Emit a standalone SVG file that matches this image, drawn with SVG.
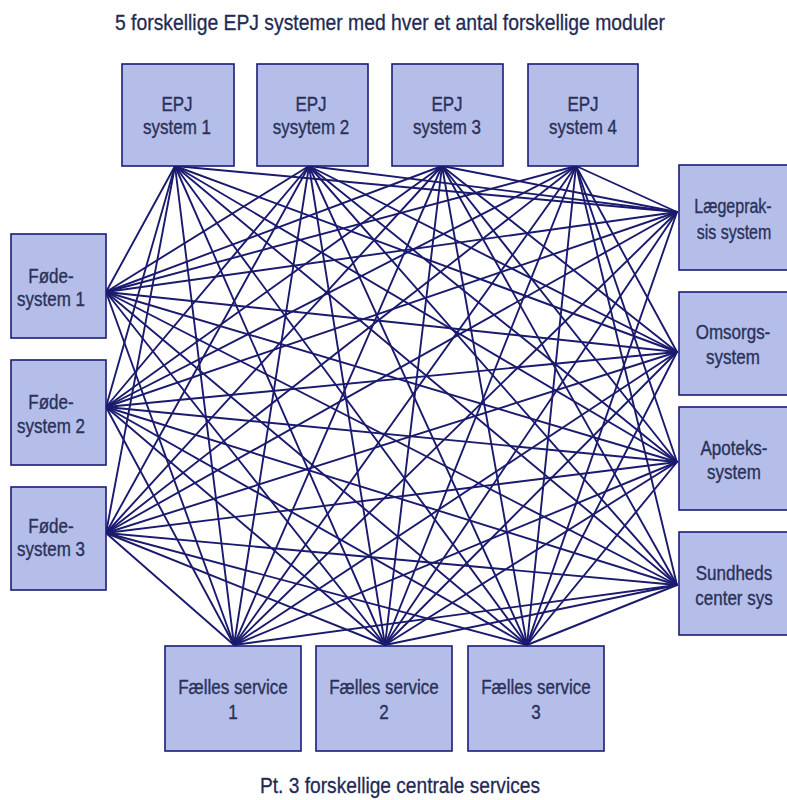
<svg xmlns="http://www.w3.org/2000/svg" width="787" height="800" viewBox="0 0 787 800">
<style>
.bg{fill:#ffffff}
.box{fill:#b5bee9;stroke:#1c1c78;stroke-width:1.6}
.lbl{font-family:"Liberation Sans",Arial,sans-serif;font-size:20px;fill:#2a3158;stroke:#2a3158;stroke-width:0.35;text-anchor:middle}
.cap{font-family:"Liberation Sans",Arial,sans-serif;font-size:22px;fill:#1f2a55;stroke:#1f2a55;stroke-width:0.3;text-anchor:middle}
#connectors line{stroke:#1a1a6e;stroke-width:1.9;stroke-linecap:round}
</style>
<rect class="bg" x="0" y="0" width="787" height="800"/>
<text class="cap" x="390" y="30" textLength="550" lengthAdjust="spacingAndGlyphs">5 forskellige EPJ systemer med hver et antal forskellige moduler</text>
<text class="cap" x="400" y="793" textLength="280" lengthAdjust="spacingAndGlyphs">Pt. 3 forskellige centrale services</text>
<g id="connectors">
<!-- EPJ1 -->
<line x1="175" y1="166" x2="106" y2="292"/><line x1="175" y1="166" x2="106" y2="407"/><line x1="175" y1="166" x2="106" y2="533"/>
<line x1="175" y1="166" x2="677" y2="212"/><line x1="175" y1="166" x2="677" y2="352"/><line x1="175" y1="166" x2="677" y2="462"/><line x1="175" y1="166" x2="677" y2="585"/>
<line x1="175" y1="166" x2="234" y2="645"/><line x1="175" y1="166" x2="385" y2="645"/><line x1="175" y1="166" x2="527" y2="645"/>
<!-- EPJ2 -->
<line x1="309" y1="166" x2="106" y2="292"/><line x1="309" y1="166" x2="106" y2="407"/><line x1="309" y1="166" x2="106" y2="533"/>
<line x1="309" y1="166" x2="677" y2="212"/><line x1="309" y1="166" x2="677" y2="352"/><line x1="309" y1="166" x2="677" y2="462"/><line x1="309" y1="166" x2="677" y2="585"/>
<line x1="309" y1="166" x2="234" y2="645"/><line x1="309" y1="166" x2="385" y2="645"/><line x1="309" y1="166" x2="527" y2="645"/>
<!-- EPJ3 -->
<line x1="442" y1="166" x2="106" y2="292"/><line x1="442" y1="166" x2="106" y2="407"/><line x1="442" y1="166" x2="106" y2="533"/>
<line x1="442" y1="166" x2="677" y2="212"/><line x1="442" y1="166" x2="677" y2="352"/><line x1="442" y1="166" x2="677" y2="462"/><line x1="442" y1="166" x2="677" y2="585"/>
<line x1="442" y1="166" x2="234" y2="645"/><line x1="442" y1="166" x2="385" y2="645"/><line x1="442" y1="166" x2="527" y2="645"/>
<!-- EPJ4 -->
<line x1="576" y1="166" x2="106" y2="292"/><line x1="576" y1="166" x2="106" y2="407"/><line x1="576" y1="166" x2="106" y2="533"/>
<line x1="576" y1="166" x2="677" y2="212"/><line x1="576" y1="166" x2="677" y2="352"/><line x1="576" y1="166" x2="677" y2="462"/><line x1="576" y1="166" x2="677" y2="585"/>
<line x1="576" y1="166" x2="234" y2="645"/><line x1="576" y1="166" x2="385" y2="645"/><line x1="576" y1="166" x2="527" y2="645"/>
<!-- Føde1 -->
<line x1="106" y1="292" x2="677" y2="212"/><line x1="106" y1="292" x2="677" y2="352"/><line x1="106" y1="292" x2="677" y2="462"/><line x1="106" y1="292" x2="677" y2="585"/>
<line x1="106" y1="292" x2="234" y2="645"/><line x1="106" y1="292" x2="385" y2="645"/><line x1="106" y1="292" x2="527" y2="645"/>
<!-- Føde2 -->
<line x1="106" y1="407" x2="677" y2="212"/><line x1="106" y1="407" x2="677" y2="352"/><line x1="106" y1="407" x2="677" y2="462"/><line x1="106" y1="407" x2="677" y2="585"/>
<line x1="106" y1="407" x2="234" y2="645"/><line x1="106" y1="407" x2="385" y2="645"/><line x1="106" y1="407" x2="527" y2="645"/>
<!-- Føde3 -->
<line x1="106" y1="533" x2="677" y2="212"/><line x1="106" y1="533" x2="677" y2="352"/><line x1="106" y1="533" x2="677" y2="462"/><line x1="106" y1="533" x2="677" y2="585"/>
<line x1="106" y1="533" x2="234" y2="645"/><line x1="106" y1="533" x2="385" y2="645"/><line x1="106" y1="533" x2="527" y2="645"/>
<!-- Right to services -->
<line x1="677" y1="212" x2="234" y2="645"/><line x1="677" y1="212" x2="385" y2="645"/><line x1="677" y1="212" x2="527" y2="645"/>
<line x1="677" y1="352" x2="234" y2="645"/><line x1="677" y1="352" x2="385" y2="645"/><line x1="677" y1="352" x2="527" y2="645"/>
<line x1="677" y1="462" x2="234" y2="645"/><line x1="677" y1="462" x2="385" y2="645"/><line x1="677" y1="462" x2="527" y2="645"/>
<line x1="677" y1="585" x2="234" y2="645"/><line x1="677" y1="585" x2="385" y2="645"/><line x1="677" y1="585" x2="527" y2="645"/>
</g>
<g id="epj1"><rect class="box" x="122" y="64" width="112" height="102"/>
<text class="lbl" transform="translate(177,111) scale(0.85,1)">EPJ</text>
<text class="lbl" transform="translate(177,134) scale(0.85,1)">system 1</text></g>
<g id="epj2"><rect class="box" x="257" y="64" width="111" height="102"/>
<text class="lbl" transform="translate(311,111) scale(0.85,1)">EPJ</text>
<text class="lbl" transform="translate(311,134) scale(0.85,1)">sysytem 2</text></g>
<g id="epj3"><rect class="box" x="392" y="64" width="111" height="102"/>
<text class="lbl" transform="translate(447,111) scale(0.85,1)">EPJ</text>
<text class="lbl" transform="translate(447,134) scale(0.85,1)">system 3</text></g>
<g id="epj4"><rect class="box" x="528" y="64" width="110" height="102"/>
<text class="lbl" transform="translate(583,111) scale(0.85,1)">EPJ</text>
<text class="lbl" transform="translate(583,134) scale(0.85,1)">system 4</text></g>
<g id="fode1"><rect class="box" x="11" y="234" width="95" height="104"/>
<text class="lbl" transform="translate(51,283) scale(0.85,1)">Føde-</text>
<text class="lbl" transform="translate(51,306) scale(0.85,1)">system 1</text></g>
<g id="fode2"><rect class="box" x="11" y="360" width="95" height="105"/>
<text class="lbl" transform="translate(51,409) scale(0.85,1)">Føde-</text>
<text class="lbl" transform="translate(51,433) scale(0.85,1)">system 2</text></g>
<g id="fode3"><rect class="box" x="11" y="487" width="95" height="103"/>
<text class="lbl" transform="translate(51,533) scale(0.85,1)">Føde-</text>
<text class="lbl" transform="translate(51,556) scale(0.85,1)">system 3</text></g>
<g id="laege"><rect class="box" x="679" y="165" width="115" height="105"/>
<text class="lbl" transform="translate(733,213) scale(0.8,1)">Lægeprak-</text>
<text class="lbl" transform="translate(734,239) scale(0.8,1)">sis system</text></g>
<g id="omsorg"><rect class="box" x="679" y="292" width="115" height="103"/>
<text class="lbl" transform="translate(733,339) scale(0.85,1)">Omsorgs-</text>
<text class="lbl" transform="translate(733,364) scale(0.85,1)">system</text></g>
<g id="apotek"><rect class="box" x="679" y="407" width="115" height="103"/>
<text class="lbl" transform="translate(734,455) scale(0.85,1)">Apoteks-</text>
<text class="lbl" transform="translate(734,479) scale(0.85,1)">system</text></g>
<g id="sundhed"><rect class="box" x="679" y="532" width="115" height="103"/>
<text class="lbl" transform="translate(734,580) scale(0.85,1)">Sundheds</text>
<text class="lbl" transform="translate(734,605) scale(0.85,1)">center sys</text></g>
<g id="faelles1"><rect class="box" x="165" y="646" width="136" height="105"/>
<text class="lbl" transform="translate(233,694) scale(0.85,1)">Fælles service</text>
<text class="lbl" transform="translate(233,719) scale(0.85,1)">1</text></g>
<g id="faelles2"><rect class="box" x="316" y="646" width="136" height="105"/>
<text class="lbl" transform="translate(384,694) scale(0.85,1)">Fælles service</text>
<text class="lbl" transform="translate(384,719) scale(0.85,1)">2</text></g>
<g id="faelles3"><rect class="box" x="468" y="646" width="136" height="105"/>
<text class="lbl" transform="translate(536,694) scale(0.85,1)">Fælles service</text>
<text class="lbl" transform="translate(536,719) scale(0.85,1)">3</text></g>
</svg>
